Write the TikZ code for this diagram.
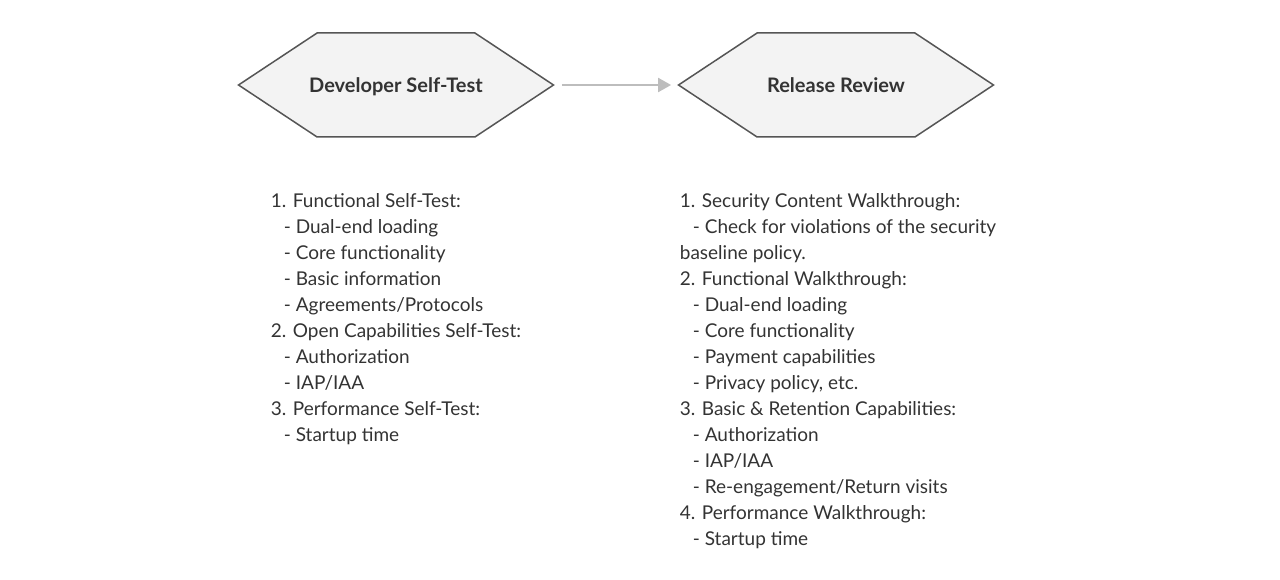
\documentclass[tikz,border=0pt]{standalone}
\usepackage{fontspec}
\setmainfont{Lato}
\usepackage{tikz}
\usetikzlibrary{arrows.meta,positioning,shapes.symbols}
\definecolor{hexfill}{HTML}{F3F3F3}
\definecolor{hexline}{HTML}{555555}
\definecolor{inktext}{HTML}{333333}
\definecolor{flowgray}{HTML}{BDBDBD}
\tikzstyle{stage} = [signal, signal to=west and east, signal pointer angle=67,
  draw=hexline, fill=hexfill, line width=1.5pt, minimum width=315pt,
  minimum height=104pt, inner xsep=-12pt, text=inktext,
  text height=14.4pt, text depth=0pt,
  font=\fontsize{20}{22}\selectfont\bfseries]
\tikzstyle{notes} = [align=left, inner sep=0pt, text=inktext,
  font=\fontsize{19}{26}\selectfont]
\tikzstyle{arrow} = [line width=2pt, draw=flowgray, -{Triangle[length=13pt,width=14pt]}]
\newcommand{\ind}{\hspace*{13pt}}

\begin{document}
\begin{tikzpicture}[x=1pt, y=-1pt, node distance=56pt]
	\useasboundingbox (0,0) rectangle (1280,580);

	\node[stage](selftest) at (396,85) {Developer Self-Test};
	\node[stage](review) at (836,85) {Release Review};

	\node[notes, below=of selftest](selfnotes) {1. Functional Self-Test:\\
		\ind- Dual-end loading\\
		\ind- Core functionality\\
		\ind- Basic information\\
		\ind- Agreements/Protocols\\
		2. Open Capabilities Self-Test:\\
		\ind- Authorization\\
		\ind- IAP/IAA\\
		3. Performance Self-Test:\\
		\ind- Startup time};
	\node[notes, below=of review, xshift=2pt](reviewnotes) {1. Security Content Walkthrough:\\
		\ind- Check for violations of the security\\
		baseline policy.\\
		2. Functional Walkthrough:\\
		\ind- Dual-end loading\\
		\ind- Core functionality\\
		\ind- Payment capabilities\\
		\ind- Privacy policy, etc.\\
		3. Basic \& Retention Capabilities:\\
		\ind- Authorization\\
		\ind- IAP/IAA\\
		\ind- Re-engagement/Return visits\\
		4. Performance Walkthrough:\\
		\ind- Startup time};

	\draw[arrow, shorten <=7pt, shorten >=6pt] (selftest.east) -- (review.west);

\end{tikzpicture}
\end{document}
